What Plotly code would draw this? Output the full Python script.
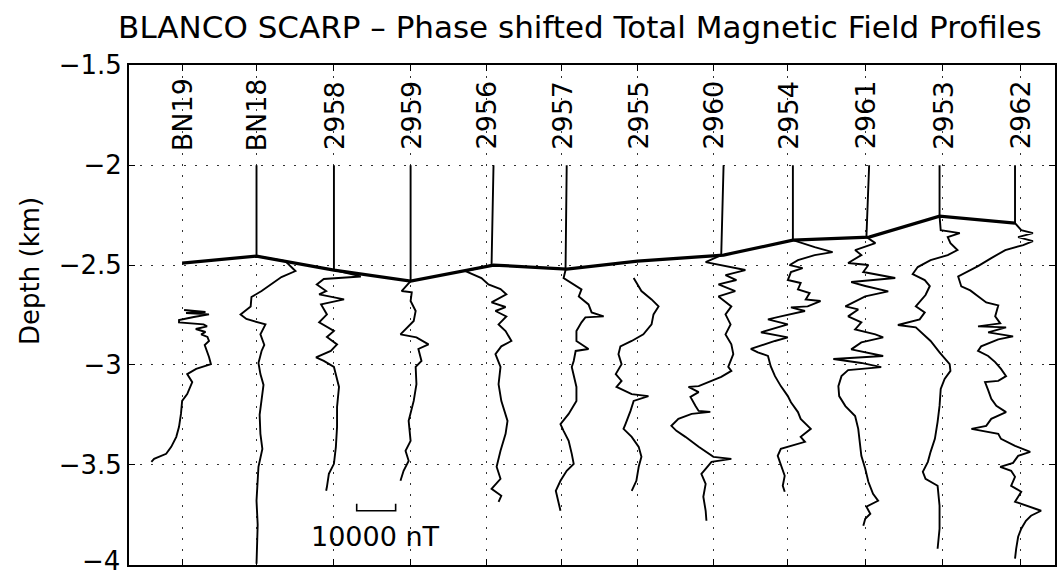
import plotly.graph_objects as go

# ---------------- data ----------------
PROFILE_NAMES = ["BN19", "BN18", "2958", "2959", "2956", "2957",
                 "2955", "2960", "2954", "2961", "2953", "2962"]
# position of each profile along the scarp (km)
PROFILE_POS = [0.70, 1.68, 2.70, 3.71, 4.71, 5.70, 6.70, 7.70, 8.68, 9.70, 10.72, 11.74]

# horizontal scale: 10000 nT equals this many km on the x axis
KM_PER_10000_NT = 0.513

# seafloor depth (km) and field value (nT) where each profile meets the seafloor
SEAFLOOR_DEPTH = [-2.49, -2.455, -2.525, -2.58, -2.50, -2.52, -2.48, -2.45, -2.375, -2.36, -2.255, -2.29]
SEAFLOOR_NT = [0, 0, 0, 0, 1800, 1300, 0, 2600, 1300, 1000, -800, -1300]

BN19_DEPTH = [-2.725, -2.735, -2.74, -2.747, -2.76, -2.775, -2.787, -2.797, -2.807, -2.82, -2.835, -2.847,
              -2.86, -2.88, -2.9, -2.93, -2.96, -2.996, -3.02, -3.046, -3.086, -3.146, -3.18, -3.245,
              -3.31, -3.36, -3.41, -3.445, -3.47, -3.485]
BN19_NT = [500, 6000, 1000, 6900, 3000, -800, -800, 5500, 6400, 3500, 6000, 4900,
           6500, 6900, 5800, 6400, 6900, 7400, 3600, 1300, 2600, 1300, 0, -300,
           -800, -1500, -2800, -4100, -7200, -7900]

BN18_DEPTH = [-2.0, -2.456, -2.48, -2.53, -2.56, -2.597, -2.63, -2.66, -2.707, -2.747, -2.77, -2.797,
              -2.847, -2.9, -2.93, -2.99, -3.046, -3.1, -3.18, -3.25, -3.345, -3.42, -3.51, -3.6,
              -3.68, -3.8, -3.995]
BN18_NT = [0, 0, 7400, 10000, 6400, 3800, 1300, -1300, -1500, -4100, -2600, 2300,
           1000, 2000, 1300, 500, 1000, 1800, 1300, 800, 1000, 1500, 500, 300,
           0, 300, 0]

P2958_DEPTH = [-2.0, -2.525, -2.557, -2.57, -2.597, -2.63, -2.647, -2.672, -2.697, -2.747, -2.787, -2.83,
               -2.86, -2.897, -2.93, -2.962, -2.98, -3.01, -3.11, -3.21, -3.31, -3.41, -3.495, -3.545,
               -3.61, -3.63]
P2958_NT = [0, 0, 6900, -2600, -4400, -2000, -3800, 2600, -3300, -1800, -3800, 0,
            -1800, 800, -800, -4600, -2600, 0, 1300, 800, 800, 500, 0, -1300,
            -1800, -2000]

P2959_DEPTH = [-2.0, -2.58, -2.63, -2.637, -2.68, -2.73, -2.78, -2.847, -2.862, -2.897, -2.92, -2.98,
               -3.01, -3.096, -3.18, -3.28, -3.38, -3.43, -3.48, -3.53, -3.58]
P2959_NT = [0, 0, -2300, 300, 0, 1300, 800, -2600, 1500, 4600, 2000, 2800,
            1300, 1500, 800, -500, 0, -1300, -500, -1800, -2600]

P2956_DEPTH = [-2.0, -2.5, -2.53, -2.565, -2.597, -2.62, -2.647, -2.687, -2.71, -2.73, -2.757, -2.797,
               -2.83, -2.88, -2.907, -2.946, -3.01, -3.096, -3.18, -3.28, -3.345, -3.43, -3.51, -3.57,
               -3.62, -3.655, -3.685]
P2956_NT = [1800, 1300, -5400, -1300, 500, 3600, 5100, 1300, 4900, 2300, 5100, 3100,
            4900, 6400, 3800, 2300, 3600, 3100, 3800, 5400, 4900, 3600, 2600, 3600,
            1300, 3800, 3100]

P2957_DEPTH = [-2.0, -2.525, -2.565, -2.597, -2.622, -2.657, -2.697, -2.737, -2.757, -2.762, -2.787, -2.83,
               -2.88, -2.92, -2.93, -2.98, -3.01, -3.11, -3.18, -3.245, -3.296, -3.33, -3.38, -3.445,
               -3.495, -3.53, -3.58, -3.63, -3.68, -3.73]
P2957_NT = [1300, 1000, 500, 3100, 5100, 4400, 6900, 7700, 10800, 6100, 5100, 3800,
            3800, 6900, 3600, 3100, 2600, 3800, 3800, 1800, -300, 500, 1800, 2600,
            3100, 1300, -300, -1500, -800, -300]

P2955_DEPTH = [-2.565, -2.63, -2.672, -2.707, -2.747, -2.797, -2.847, -2.88, -2.907, -2.946, -2.996, -3.046,
               -3.08, -3.11, -3.146, -3.156, -3.18, -3.23, -3.296, -3.32, -3.36, -3.41, -3.46, -3.51,
               -3.58, -3.63]
P2955_NT = [-1000, 1000, 3600, 5400, 4100, 3600, 1500, -1500, -4400, -4900, -4100, -5600,
            -4100, -5400, -1500, 2800, -1000, -1800, -3100, -3600, -1500, 300, 1000, 300,
            -300, -1500]

P2960_DEPTH = [-2.0, -2.45, -2.485, -2.51, -2.525, -2.55, -2.575, -2.597, -2.63, -2.657, -2.707, -2.747,
               -2.797, -2.847, -2.897, -2.946, -3.01, -3.03, -3.06, -3.106, -3.11, -3.136, -3.16, -3.205,
               -3.23, -3.235, -3.245, -3.27, -3.305, -3.33, -3.36, -3.41, -3.445, -3.46, -3.47, -3.485,
               -3.52, -3.545, -3.595, -3.66, -3.73, -3.78]
P2960_NT = [2600, 2000, -2000, 4600, 8200, 3100, 5900, 1300, 5600, 1300, 4600, 3100,
            4400, 3100, 4600, 5100, 3800, 4600, 2000, -3800, -6400, -3800, -5900, -4600,
            -3800, -800, -5600, -9000, -10800, -9500, -7200, -3800, -1300, 0, 4600, -500,
            -2000, -3100, -2000, -2600, -2000, -1800]

P2954_DEPTH = [-2.0, -2.375, -2.41, -2.435, -2.45, -2.475, -2.5, -2.515, -2.535, -2.575, -2.59, -2.622,
               -2.64, -2.672, -2.68, -2.707, -2.712, -2.73, -2.757, -2.772, -2.797, -2.837, -2.862, -2.88,
               -2.92, -2.937, -2.955, -3.006, -3.056, -3.106, -3.156, -3.187, -3.236, -3.27, -3.32, -3.36,
               -3.385, -3.42, -3.455, -3.505, -3.555, -3.605, -3.635]
P2954_NT = [1300, 1300, 6900, 11500, 6900, 2600, 500, 3800, 800, 0, 3300, 2600,
            5600, 4600, 8400, 5100, 800, 4400, -1800, -5100, 0, -6900, 0, -3300,
            -9500, -7700, -5100, -4400, -3300, -1800, 0, 800, 2600, 3300, 5900, 3300,
            4400, -1800, -2600, -1800, -800, -1300, -800]

P2961_DEPTH = [-2.0, -2.36, -2.39, -2.425, -2.45, -2.49, -2.5, -2.535, -2.565, -2.585, -2.605, -2.632,
               -2.657, -2.707, -2.722, -2.757, -2.787, -2.822, -2.847, -2.862, -2.887, -2.922, -2.955, -2.97,
               -2.99, -3.011, -3.026, -3.056, -3.106, -3.156, -3.206, -3.256, -3.32, -3.385, -3.455, -3.52,
               -3.585, -3.645, -3.68, -3.71, -3.745, -3.77, -3.805]
P2961_NT = [1000, 300, 2600, -2600, -1000, -4400, 800, -500, 7700, -3600, 0, 5900,
            0, -5100, -1800, -4400, -1000, -2600, 2600, 4600, -1000, -3600, 4600, -8200,
            -1000, 4100, -4400, -6100, -6900, -6700, -5100, -2600, -1800, -1500, -1000, 0,
            800, 2000, 3300, 300, 1300, 0, -500]

P2953_DEPTH = [-2.0, -2.255, -2.325, -2.34, -2.36, -2.39, -2.425, -2.45, -2.475, -2.51, -2.545, -2.575,
               -2.605, -2.65, -2.707, -2.737, -2.772, -2.8, -2.812, -2.88, -2.937, -2.996, -3.03, -3.07,
               -3.12, -3.205, -3.285, -3.37, -3.435, -3.485, -3.535, -3.57, -3.605, -3.705, -3.82, -3.92]
P2953_NT = [-800, -800, -500, 4400, 1300, 2000, 3800, 1300, -3100, -6400, -7700, -4600,
            -3300, -4400, -6900, -4600, -5900, -11500, -6900, -3100, -800, 1800, 2000, 500,
            -500, -800, -1300, -2000, -3100, -3800, -5100, -4400, -1300, -800, -800, -1300]

P2962_DEPTH = [-2.0, -2.29, -2.325, -2.34, -2.36, -2.38, -2.4, -2.425, -2.465, -2.505, -2.557, -2.607,
               -2.627, -2.657, -2.687, -2.702, -2.757, -2.792, -2.807, -2.812, -2.837, -2.857, -2.872, -2.907,
               -2.93, -2.955, -2.986, -3.02, -3.056, -3.08, -3.086, -3.126, -3.17, -3.205, -3.236, -3.27,
               -3.305, -3.32, -3.345, -3.37, -3.405, -3.435, -3.455, -3.49, -3.51, -3.53, -3.56, -3.605,
               -3.635, -3.685, -3.73, -3.755, -3.78, -3.82, -3.86, -3.92, -3.97]
P2962_NT = [-1300, -1300, 300, 3300, -500, 3300, 800, -3800, -7400, -10800, -15900, -15100,
            -12800, -10800, -8700, -5600, -6400, -5100, -10800, -3600, -8200, -1800, -5600, -10000,
            -10800, -8200, -6400, -4900, -3600, -5600, -9000, -8200, -7400, -6100, -3600, -7400,
            -8700, -12500, -5600, -4900, -1300, 2600, -500, -1800, -5100, -2300, -1300, -2300,
            300, -1300, 5400, 2800, 1500, 300, -500, -1000, -1300]

PROFILE_DEPTHS = [BN19_DEPTH, BN18_DEPTH, P2958_DEPTH, P2959_DEPTH, P2956_DEPTH, P2957_DEPTH,
                  P2955_DEPTH, P2960_DEPTH, P2954_DEPTH, P2961_DEPTH, P2953_DEPTH, P2962_DEPTH]
PROFILE_NT = [BN19_NT, BN18_NT, P2958_NT, P2959_NT, P2956_NT, P2957_NT,
              P2955_NT, P2960_NT, P2954_NT, P2961_NT, P2953_NT, P2962_NT]

# scale bar
SCALE_NT = 10000
SCALE_X0 = 3.0
SCALE_DEPTH = -3.73
SCALE_LABEL = "10000 nT"

TITLE = "BLANCO SCARP \u2013 Phase shifted Total Magnetic Field Profiles"
Y_LABEL = "Depth (km)"
Y_TICKS = [-4, -3.5, -3, -2.5, -2, -1.5]
Y_TICK_TEXT = ["\u22124", "\u22123.5", "\u22123", "\u22122.5", "\u22122", "\u22121.5"]

# ---------------- figure ----------------
k = KM_PER_10000_NT / 10000.0
FONT = "DejaVu Sans, Arial, sans-serif"

fig = go.Figure()

for pos, dep, nt in zip(PROFILE_POS, PROFILE_DEPTHS, PROFILE_NT):
    fig.add_trace(go.Scatter(
        x=[pos + v * k for v in nt], y=dep, mode="lines",
        line=dict(color="black", width=1.9), hoverinfo="skip", showlegend=False))

fig.add_trace(go.Scatter(
    x=[p + v * k for p, v in zip(PROFILE_POS, SEAFLOOR_NT)], y=SEAFLOOR_DEPTH,
    mode="lines", line=dict(color="black", width=3.2), hoverinfo="skip", showlegend=False))

bar_end = SCALE_X0 + SCALE_NT * k
fig.add_trace(go.Scatter(
    x=[SCALE_X0, SCALE_X0, bar_end, bar_end],
    y=[SCALE_DEPTH + 0.035, SCALE_DEPTH, SCALE_DEPTH, SCALE_DEPTH + 0.035],
    mode="lines", line=dict(color="black", width=1.6), hoverinfo="skip", showlegend=False))

annotations = []
for pos, name in zip(PROFILE_POS, PROFILE_NAMES):
    annotations.append(dict(x=pos, y=-1.749, xref="x", yref="y", text=name, textangle=-90,
                            showarrow=False, xanchor="center", yanchor="middle",
                            font=dict(family=FONT, size=27, color="black")))
annotations.append(dict(x=(SCALE_X0 + bar_end) / 2 - 0.01, y=-3.86, xref="x", yref="y",
                        text=SCALE_LABEL, showarrow=False, xanchor="center", yanchor="middle",
                        font=dict(family=FONT, size=27, color="black")))
annotations.append(dict(x=-0.107, y=-2.53, xref="paper", yref="y", text=Y_LABEL, textangle=-90,
                        showarrow=False, xanchor="center", yanchor="middle",
                        font=dict(family=FONT, size=26, color="black")))
# the lowest tick label, which sits on the bottom edge of the axis
annotations.append(dict(x=-0.0075, y=Y_TICKS[0], xref="paper", yref="y", text=Y_TICK_TEXT[0],
                        showarrow=False, xanchor="right", yanchor="middle", yshift=4,
                        font=dict(family=FONT, size=26, color="black")))

fig.update_layout(
    width=1062, height=578,
    margin=dict(l=129, r=5, t=65, b=13),
    paper_bgcolor="white", plot_bgcolor="white",
    title=dict(text=TITLE, x=0.546, xanchor="center", y=0.953, yanchor="middle",
               font=dict(family=FONT, size=31, color="black")),
    annotations=annotations,
    showlegend=False,
)

fig.update_xaxes(
    range=[0, 12.2], tickvals=PROFILE_POS, showticklabels=False,
    ticks="inside", ticklen=6, tickcolor="black", tickwidth=1.2,
    showline=True, linecolor="black", linewidth=1.8, mirror="ticks",
    showgrid=True, gridcolor="#333333", gridwidth=1.3, griddash="2px,9px",
    zeroline=False,
)
fig.update_yaxes(
    range=[-4.0015, -1.4985], tickvals=Y_TICKS, ticktext=[""] + Y_TICK_TEXT[1:],
    ticks="inside", ticklen=6, tickcolor="black", tickwidth=1.2,
    showline=True, linecolor="black", linewidth=1.8, mirror="ticks",
    showgrid=True, gridcolor="#333333", gridwidth=1.3, griddash="2px,9px",
    zeroline=False, tickfont=dict(family=FONT, size=26, color="black"),
)

fig.write_html("out.html")
